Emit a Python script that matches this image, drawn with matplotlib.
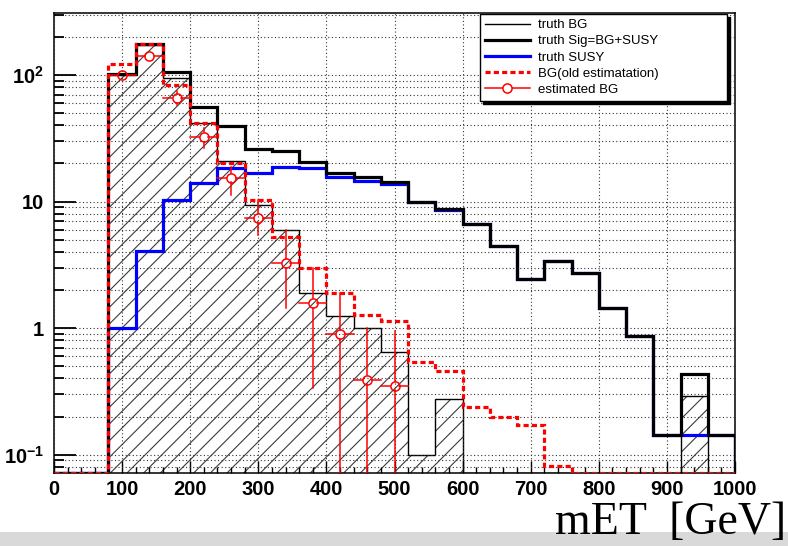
import numpy as np
import matplotlib
matplotlib.use("Agg")
import matplotlib.pyplot as plt
from matplotlib import font_manager
from matplotlib.font_manager import FontProperties
from matplotlib.lines import Line2D
from matplotlib.patches import Rectangle
from matplotlib.ticker import (FixedLocator, FixedFormatter, LogLocator,
                               MultipleLocator, NullFormatter, FormatStrFormatter)

# ---- histogram content: 40 GeV bins from 0 to 1000 GeV ----
bin_edges = np.arange(0, 1001, 40)

truth_bg = [0, 0, 100, 171, 95, 41.5, 21, 9.4, 6.0, 1.88, 1.24, 1.0, 0.65, 0.1, 0.275,
            0, 0, 0, 0, 0, 0, 0, 0, 0.29, 0]
truth_susy = [0, 0, 1.0, 4.1, 10.3, 13.9, 18.3, 16.8, 18.9, 18.5, 15.5, 14.6, 13.7, 9.9, 8.5,
              6.6, 4.45, 2.43, 3.4, 2.74, 1.43, 0.86, 0.143, 0.143, 0.143]
bg_old_estimation = [0, 0, 122, 175, 84, 41.5, 20.2, 10.2, 5.2, 3.0, 1.9, 1.28, 1.14, 0.54, 0.457,
                     0.239, 0.199, 0.171, 0.0815, 0, 0, 0, 0, 0, 0]

# estimated background points with asymmetric errors
est_x = [100, 140, 180, 220, 260, 300, 340, 380, 420, 460, 500]
est_val = [100, 141, 65.4, 32.3, 15.4, 7.4, 3.25, 1.58, 0.89, 0.39, 0.35]
est_lo = [93, 131, 57.9, 26.3, 11.3, 5.4, 1.44, 0.335, 0, 0, 0]
est_hi = [108, 152, 74.8, 37.9, 18.8, 10.3, 5.96, 2.96, 1.9, 1.0, 0.95]
est_xerr = 20

legend_labels = ["truth BG", "truth Sig=BG+SUSY", "truth SUSY",
                 "BG(old estimatation)", "estimated BG"]

x_ticks = list(range(0, 1001, 100))
y_ticks = [0.1, 1, 10, 100]
y_tick_labels = [r"$10^{-1}$", "1", "10", r"$10^{2}$"]

truth_sig = np.asarray(truth_bg) + np.asarray(truth_susy)


def have_font(name):
    try:
        font_manager.findfont(FontProperties(family=name), fallback_to_default=False)
        return True
    except ValueError:
        return False


tick_family = "Liberation Sans Narrow" if have_font("Liberation Sans Narrow") else "Liberation Sans"
plt.rcParams["mathtext.fontset"] = "custom"
for key in ("rm", "bf", "it", "sf"):
    plt.rcParams[f"mathtext.{key}"] = f"{tick_family}:bold"
plt.rcParams["hatch.linewidth"] = 0.8

W, H = 788, 546
ymin, ymax = 0.072, 307
ax_left, ax_right, ax_top, ax_bottom = 54, 735, 13.3, 472.7

fig = plt.figure(figsize=(W / 100, H / 100), dpi=100)
fig.patch.set_facecolor("white")
# light grey strip along the bottom edge, behind everything else
fig.patches.append(Rectangle((0, 0), 1, 14.3 / H, transform=fig.transFigure,
                             facecolor="#d9d9d9", edgecolor="none", zorder=-5))

ax = fig.add_axes([ax_left / W, 1 - ax_bottom / H, (ax_right - ax_left) / W,
                   (ax_bottom - ax_top) / H])
ax.set_yscale("log")
ax.set_xlim(0, 1000)
ax.set_ylim(ymin, ymax)


def on_axis(v):
    # empty bins sit on the lower frame edge of the log axis
    return np.maximum(np.asarray(v, float), ymin)


# background: hatched fill plus thin outline
ax.stairs(on_axis(truth_bg), bin_edges, baseline=ymin * 0.5, fill=True,
          facecolor="none", edgecolor="#3a3a3a", linewidth=0, hatch="//", zorder=1)
ax.stairs(on_axis(truth_bg), bin_edges, baseline=ymin, color="black", linewidth=1.0, zorder=2)
ax.stairs(on_axis(truth_susy), bin_edges, baseline=ymin, color="#0000ff", linewidth=2.3, zorder=3)
ax.stairs(on_axis(truth_sig), bin_edges, baseline=ymin, color="black", linewidth=2.3, zorder=4)
dash = (0, (1.6, 1.0))
ax.stairs(on_axis(bg_old_estimation), bin_edges, baseline=ymin, color="#ff0000",
          linewidth=2.3, linestyle=dash, zorder=5)

# estimated points: error bars stop at the marker edge
ax_w_px = ax_right - ax_left
ax_h_px = ax_bottom - ax_top
marker_r_px = 4.6
gap_y = 10 ** (marker_r_px * np.log10(ymax / ymin) / ax_h_px)
gap_x = marker_r_px * 1000 / ax_w_px
for x, v, lo, hi in zip(est_x, est_val, est_lo, est_hi):
    if hi > v * gap_y:
        ax.plot([x, x], [v * gap_y, hi], color="red", lw=1.1, zorder=6)
    if v / gap_y > lo:
        ax.plot([x, x], [max(lo, ymin * 0.5), v / gap_y], color="red", lw=1.1, zorder=6)
    ax.plot([x - est_xerr, x - gap_x], [v, v], color="red", lw=1.1, zorder=6)
    ax.plot([x + gap_x, x + est_xerr], [v, v], color="red", lw=1.1, zorder=6)
ax.plot(est_x, est_val, linestyle="none", marker="o", markersize=6.6,
        markerfacecolor="none", markeredgecolor="red", markeredgewidth=1.1, zorder=7)

# axes, ticks and grid
ax.xaxis.set_major_locator(FixedLocator(x_ticks))
ax.xaxis.set_major_formatter(FormatStrFormatter("%d"))
ax.xaxis.set_minor_locator(MultipleLocator(20))
ax.yaxis.set_major_locator(FixedLocator(y_ticks))
ax.yaxis.set_major_formatter(FixedFormatter(y_tick_labels))
ax.yaxis.set_minor_locator(LogLocator(base=10, subs=np.arange(2, 10), numticks=30))
ax.yaxis.set_minor_formatter(NullFormatter())

ax.tick_params(axis="both", which="both", direction="in", top=False, right=False,
               color="black")
ax.tick_params(axis="y", which="major", length=15.8, width=1.3, pad=7.0)
ax.tick_params(axis="y", which="minor", length=7.2, width=1.3)
ax.tick_params(axis="x", which="major", length=8.6, width=1.0, pad=5.0)
ax.tick_params(axis="x", which="minor", length=4.3, width=1.0)

tick_font = FontProperties(family=tick_family, weight="bold", size=14.5)
for lab in ax.get_xticklabels() + ax.get_yticklabels():
    lab.set_fontproperties(tick_font)

grid_style = dict(color="#333333", linestyle=(0, (1, 2.2)), linewidth=0.8)
ax.grid(True, axis="x", which="major", **grid_style)
ax.grid(True, axis="y", which="both", **grid_style)
ax.set_axisbelow(False)
for s in ax.spines.values():
    s.set_color("black")
    s.set_linewidth(1.1)

ax.set_xlabel("mET  [GeV]", fontsize=33, family="Liberation Serif",
              ha="right", va="baseline")
ax.xaxis.set_label_coords((786 - ax_left) / ax_w_px, (ax_bottom - 534) / ax_h_px)

# legend
handles = [
    Line2D([], [], color="black", lw=1.0),
    Line2D([], [], color="black", lw=2.3),
    Line2D([], [], color="#0000ff", lw=2.3),
    Line2D([], [], color="#ff0000", lw=2.3, linestyle=dash),
    Line2D([], [], color="red", lw=1.1, marker="o", markersize=6.6,
           markerfacecolor="white", markeredgecolor="red", markeredgewidth=1.1),
]
leg_x0, leg_x1, leg_y0, leg_y1 = 480, 727, 14, 97.3
leg = ax.legend(handles, legend_labels, loc="upper left", mode="expand",
                bbox_to_anchor=(leg_x0 / W, 1 - leg_y1 / H, (leg_x1 - leg_x0) / W,
                                (leg_y1 - leg_y0) / H),
                bbox_transform=fig.transFigure,
                prop=FontProperties(family="Liberation Sans", size=9.5),
                frameon=True, fancybox=False, framealpha=1, edgecolor="black",
                borderpad=0.38, labelspacing=0.3, handlelength=3.4,
                handletextpad=0.65, borderaxespad=0,
                shadow={"color": "black", "alpha": 1.0})
leg.get_frame().set_linewidth(1.0)
leg.set_zorder(10)

fig.savefig("out.png", dpi=100)
